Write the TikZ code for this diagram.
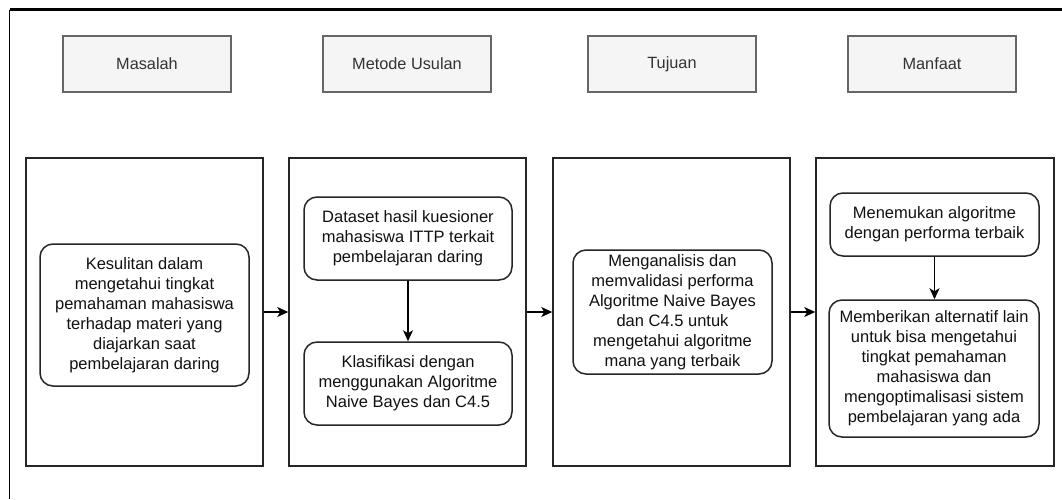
\documentclass[tikz,border=0pt]{standalone}
\usepackage{fontspec}
\setmainfont{Liberation Sans}
\usetikzlibrary{arrows.meta}
\definecolor{hdrfill}{HTML}{F5F5F5}
\definecolor{hdrline}{HTML}{666666}
\definecolor{hdrtext}{HTML}{333333}
\definecolor{bodytext}{HTML}{111111}
\tikzset{
  hdr/.style={draw=hdrline, line width=1.3pt, fill=hdrfill, text=hdrtext, minimum width=168pt, minimum height=56pt, inner sep=0pt, font=\fontsize{16.3}{20}\selectfont},
  bigbox/.style={draw=black!85, line width=1.5pt, minimum width=237pt, minimum height=308pt, inner sep=0pt},
  rbox/.style={draw=black!85, line width=1.5pt, rounded corners=13pt, align=center, inner sep=0pt, text=bodytext, font=\fontsize{16.5}{20}\selectfont},
  arr/.style={draw=black, line width=1.4pt, -{Stealth[length=11pt,width=10pt,inset=3pt]}}
}
\begin{document}
\begin{tikzpicture}[x=1pt,y=-1pt]
\useasboundingbox (0,0) rectangle (1062,499);
\fill[white] (0,0) rectangle (1062,499);
% outer frame (partially visible)
\coordinate (fo) at (9.5,9.5);
\coordinate (fr) at (1062,9.5);
\coordinate (fb) at (9.5,499);
\draw[line width=2.6pt] (fo) -- (fr);
\draw[line width=1.5pt] (fo) -- (fb);
% headers
\node[hdr] (h1) at (147,64) {Masalah};
\node[hdr] (h2) at (407,64) {Metode Usulan};
\node[hdr] (h3) at (672,64) {Tujuan};
\node[hdr] (h4) at (932,64) {Manfaat};
% big boxes
\node[bigbox] (b1) at (144.5,312) {};
\node[bigbox] (b2) at (407.5,312) {};
\node[bigbox] (b3) at (671.5,312) {};
\node[bigbox, minimum width=238pt] (b4) at (935,312) {};
% inner nodes
\node[rbox, minimum width=209pt, minimum height=142pt] (n1) at (144.5,315) {Kesulitan dalam\\mengetahui tingkat\\pemahaman mahasiswa\\terhadap materi yang\\diajarkan saat\\pembelajaran daring};
\node[rbox, minimum width=208pt, minimum height=83pt] (n2a) at (408,238.5) {Dataset hasil kuesioner\\mahasiswa ITTP terkait\\pembelajaran daring};
\node[rbox, minimum width=208pt, minimum height=83pt] (n2b) at (408,383.5) {Klasifikasi dengan\\menggunakan Algoritme\\Naive Bayes dan C4.5};
\node[rbox, minimum width=199pt, minimum height=124pt] (n3) at (672.5,312) {Menganalisis dan\\memvalidasi performa\\Algoritme Naive Bayes\\dan C4.5 untuk\\mengetahui algoritme\\mana yang terbaik};
\node[rbox, minimum width=209pt, minimum height=63pt] (n4a) at (934.5,224.5) {Menemukan algoritme\\dengan performa terbaik};
\node[rbox, minimum width=210pt, minimum height=137pt] (n4b) at (934,368.5) {Memberikan alternatif lain\\untuk bisa mengetahui\\tingkat pemahaman\\mahasiswa dan\\mengoptimalisasi sistem\\pembelajaran yang ada};
% connectors
\draw[arr] (b1) -- (b2);
\draw[arr] (b2) -- (b3);
\draw[arr] (b3) -- (b4);
\draw[arr] (n2a) -- (n2b);
\draw[arr] (n4a) -- (n4a |- n4b.north);
\end{tikzpicture}
\end{document}
